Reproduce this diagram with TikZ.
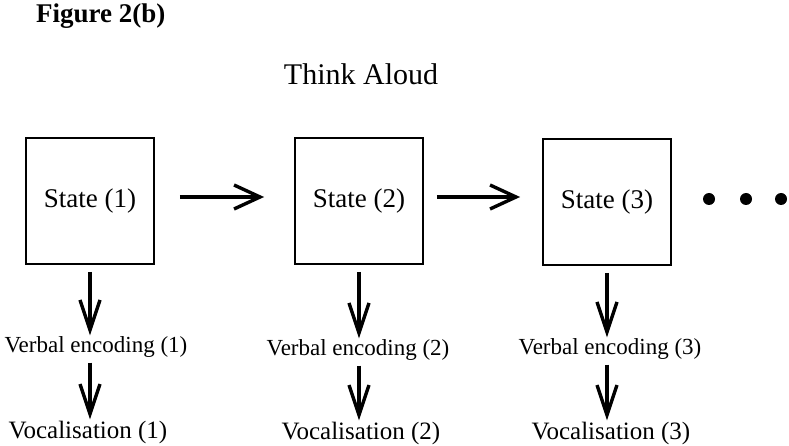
\documentclass[tikz,border=0pt]{standalone}
\usepackage{fontspec}
\setmainfont{Liberation Serif}
\usetikzlibrary{arrows.meta}
\begin{document}
\begin{tikzpicture}[x=1pt,y=-1pt,
  statebox/.style={draw,line width=1.8pt,minimum width=128pt,minimum height=126pt,inner sep=0pt,font=\fontsize{27}{31}\selectfont},
  lbl/.style={inner sep=1pt,font=\fontsize{23}{27}\selectfont},
  vlbl/.style={inner sep=1pt,anchor=base,font=\fontsize{25}{29}\selectfont},
  harrow/.style={line width=3.4pt,-{Straight Barb[length=26pt,width=24pt,line width=3.4pt]}},
  varrow/.style={line width=3.4pt,-{Straight Barb[length=30pt,width=20pt,line width=3.4pt]}},
  dot/.style={circle,fill,inner sep=0pt,minimum size=12pt}]
\useasboundingbox (0,0) rectangle (789,446);
\node[anchor=west,inner sep=0pt,font=\fontsize{27}{31}\selectfont\bfseries] (fig) at (36,16) {Figure 2(b)};
\node[inner sep=0pt,font=\fontsize{30}{34}\selectfont] (title) at (361,74) {Think Aloud};
\node[statebox] (s1) at (90,201) {State (1)};
\node[statebox] (s2) at (359,201) {State (2)};
\node[statebox] (s3) at (607,202) {State (3)};
\node[dot] (d1) at (709,199) {};
\node[dot] (d2) at (746,199) {};
\node[dot] (d3) at (781,199) {};
\node[lbl] (v1) at (96,347) {Verbal encoding (1)};
\node[lbl] (v2) at (358,350) {Verbal encoding (2)};
\node[lbl] (v3) at (610,349) {Verbal encoding (3)};
\node[vlbl] (o1) at (88,438) {Vocalisation (1)};
\node[vlbl] (o2) at (361,439) {Vocalisation (2)};
\node[vlbl] (o3) at (611,439) {Vocalisation (3)};
\draw[harrow,shorten <=25pt,shorten >=30pt] (s1.east |- 0,197) -- (s2.west |- 0,197);
\draw[harrow,shorten <=13pt,shorten >=22pt] (s2.east |- 0,197) -- (s3.west |- 0,197);
\draw[varrow,shorten <=7pt] (s1.south) -- (s1.south |- v1.north);
\draw[varrow,shorten <=7pt] (s2.south) -- (s2.south |- v2.north);
\draw[varrow,shorten <=7pt] (s3.south) -- (s3.south |- v3.north);
\draw[varrow,shorten <=4pt] (s1.south |- v1.south) -- (s1.south |- o1.north);
\draw[varrow,shorten <=4pt] (s2.south |- v2.south) -- (s2.south |- o2.north);
\draw[varrow,shorten <=4pt] (s3.south |- v3.south) -- (s3.south |- o3.north);
\end{tikzpicture}
\end{document}
